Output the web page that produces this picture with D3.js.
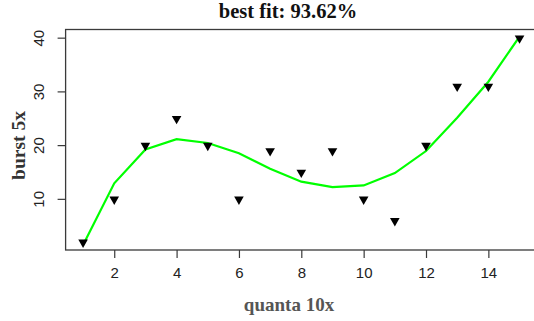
<!DOCTYPE html>
<html>
<head>
<meta charset="utf-8">
<script src="https://cdn.jsdelivr.net/npm/d3@7"></script>
<style>
  body { margin: 0; background: #fff; }
  svg { display: block; }
</style>
</head>
<body>
<script>
// observed points
var quanta = [1, 2, 3, 4, 5, 6, 7, 8, 9, 10, 11, 12, 13, 14, 15];
var burst = [2, 10, 20, 25, 20, 10, 19, 15, 19, 10, 6, 20, 31, 31, 40];
// fitted curve
var fitted = [1.4, 12.9, 19.2, 21.1, 20.4, 18.5, 15.6, 13.2, 12.2, 12.5, 14.8, 18.9, 25.1, 31.8, 40.2];
var xTicks = [2, 4, 6, 8, 10, 12, 14];
var yTicks = [10, 20, 30, 40];

var width = 534, height = 321;

var svg = d3.select("body").append("svg")
    .attr("width", width)
    .attr("height", height);

// R style 4% padding on both axes
var x = d3.scaleLinear().domain([0.44, 15.56]).range([65.6, 537]);
var y = d3.scaleLinear().domain([0.48, 41.52]).range([250, 29.5]);

// box
svg.append("rect")
    .attr("x", x(0.44))
    .attr("y", y(41.52))
    .attr("width", x(15.56) - x(0.44))
    .attr("height", y(0.48) - y(41.52))
    .style("fill", "none")
    .style("stroke", "#3a3a3a")
    .style("stroke-width", 1.3);

// x axis
var xAxis = svg.append("g")
    .attr("transform", "translate(0," + y(0.48) + ")")
    .call(d3.axisBottom(x).tickValues(xTicks).tickSize(8).tickPadding(9).tickFormat(d3.format("d")));
xAxis.select(".domain").remove();
xAxis.selectAll("line").style("stroke", "#3a3a3a").style("stroke-width", 1.2);
xAxis.selectAll("text")
    .style("font-family", "'Liberation Sans', Arial, sans-serif")
    .style("font-size", "15px")
    .style("fill", "#222");

// y axis (labels parallel to axis, R default)
var yAxis = svg.append("g")
    .attr("transform", "translate(" + x(0.44) + ",0)")
    .call(d3.axisLeft(y).tickValues(yTicks).tickSize(8).tickFormat(d3.format("d")));
yAxis.select(".domain").remove();
yAxis.selectAll("line").style("stroke", "#3a3a3a").style("stroke-width", 1.2);
yAxis.selectAll("text")
    .attr("x", null).attr("dy", null)
    .attr("transform", "translate(-21.5,0) rotate(-90)")
    .attr("text-anchor", "middle")
    .style("font-family", "'Liberation Sans', Arial, sans-serif")
    .style("font-size", "15px")
    .style("fill", "#222");

// fitted line
var line = d3.line()
    .x(function(d, i) { return x(quanta[i]); })
    .y(function(d) { return y(d); });

svg.append("path")
    .datum(fitted)
    .attr("d", line)
    .style("fill", "none")
    .style("stroke", "#00ff00")
    .style("stroke-width", 2.2);

// downward triangles
var tri = d3.symbol().type(d3.symbolTriangle).size(40);
svg.selectAll(".pt")
    .data(burst)
    .enter().append("path")
    .attr("class", "pt")
    .attr("d", tri)
    .attr("transform", function(d, i) { return "translate(" + x(quanta[i]) + "," + (y(d) + 0.5) + ") rotate(180)"; })
    .style("fill", "#000");

// title and axis titles
svg.append("text")
    .attr("x", 288)
    .attr("y", 17.5)
    .attr("text-anchor", "middle")
    .style("font-family", "'Liberation Serif', 'Times New Roman', serif")
    .style("font-weight", "bold")
    .style("font-size", "20.5px")
    .style("fill", "#111")
    .text("best fit: 93.62%");

svg.append("text")
    .attr("x", 289)
    .attr("y", 311)
    .attr("text-anchor", "middle")
    .style("font-family", "'Liberation Serif', 'Times New Roman', serif")
    .style("font-weight", "bold")
    .style("font-size", "19px")
    .style("fill", "#555")
    .text("quanta 10x");

svg.append("text")
    .attr("transform", "translate(25,145.5) rotate(-90)")
    .attr("text-anchor", "middle")
    .style("font-family", "'Liberation Serif', 'Times New Roman', serif")
    .style("font-weight", "bold")
    .style("font-size", "19.5px")
    .style("fill", "#333")
    .text("burst 5x");
</script>
</body>
</html>
